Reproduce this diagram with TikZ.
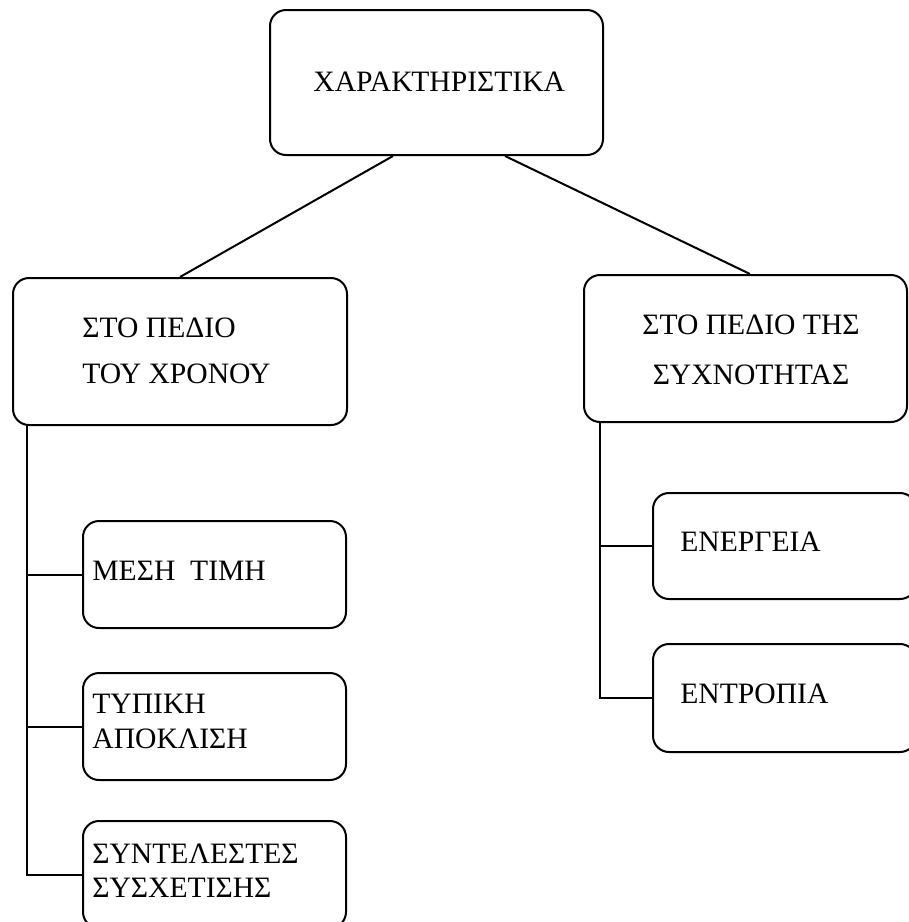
\documentclass[tikz,border=0pt]{standalone}
\usepackage{fontspec}
\setmainfont{Liberation Serif}

\tikzset{
  rbox/.style={draw, line width=1pt, rounded corners=8pt, inner sep=0pt},
  btext/.style={inner sep=0pt, anchor=north west, align=left, font=\fontsize{14.8}{23}\selectfont},
  link/.style={line width=1pt}
}

\begin{document}
\begin{tikzpicture}[x=0.5pt,y=0.5pt,yscale=-1,xscale=1]
	\useasboundingbox (0,0) rectangle (909,922);
	\clip (0,0) rectangle (909,922);

	%Shape: boxes
	\node [rbox, minimum width=166.5pt, minimum height=72.5pt] (top) at (436.5,82.5) {};
	\node [rbox, minimum width=167pt, minimum height=73.5pt] (tdom) at (180,351.5) {};
	\node [rbox, minimum width=161.5pt, minimum height=73.5pt] (fdom) at (745.5,348.5) {};
	\node [rbox, minimum width=131.5pt, minimum height=53.5pt] (mean) at (214.5,574.5) {};
	\node [rbox, minimum width=131.5pt, minimum height=53.5pt] (std) at (214.5,726.5) {};
	\node [rbox, minimum width=131.5pt, minimum height=53.5pt] (corr) at (214.5,874.5) {};
	\node [rbox, minimum width=131.5pt, minimum height=53pt] (energy) at (784.5,546) {};
	\node [rbox, minimum width=131.5pt, minimum height=54pt] (entropy) at (784.5,698) {};

	%Straight Lines: top to domains
	\draw [link] ([xshift=-21.75pt]top.south) -- (tdom.north);
	\draw [link] ([xshift=34.25pt]top.south) -- ([xshift=2.25pt]fdom.north);

	%Straight Lines: time domain branch
	\coordinate (tspine) at ([xshift=7.5pt]tdom.south west);
	\draw [link] (tspine) |- (corr.west);
	\draw [link] (tspine |- mean.west) -- (mean.west);
	\draw [link] (tspine |- std.west) -- (std.west);

	%Straight Lines: frequency domain branch
	\coordinate (fspine) at ([xshift=8.5pt]fdom.south west);
	\draw [link] (fspine) |- (entropy.west);
	\draw [link] (fspine |- energy.west) -- (energy.west);

	% Text Node
	\node [btext] (ttop) at (313,72) {ΧΑΡΑΚΤΗΡΙΣΤΙΚΑ};
	% Text Node
	\node [btext] (ttdom) at (82,317) {ΣΤΟ ΠΕΔΙΟ\\ΤΟΥ ΧΡΟΝΟΥ};
	% Text Node
	\node [btext, anchor=north, align=center, font=\fontsize{14.8}{25}\selectfont] (tfdom) at (751,314) {ΣΤΟ ΠΕΔΙΟ ΤΗΣ\\ΣΥΧΝΟΤΗΤΑΣ};
	% Text Node
	\node [btext] (tmean) at (92,561) {ΜΕΣΗ\ \ ΤΙΜΗ};
	% Text Node
	\node [btext, font=\fontsize{14.8}{17.5}\selectfont] (tstd) at (92,694) {ΤΥΠΙΚΗ\\ΑΠΟΚΛΙΣΗ};
	% Text Node
	\node [btext, font=\fontsize{14.8}{17}\selectfont] (tcorr) at (92,844) {ΣΥΝΤΕΛΕΣΤΕΣ\\ΣΥΣΧΕΤΙΣΗΣ};
	% Text Node
	\node [btext] (tenergy) at (680,532) {ΕΝΕΡΓΕΙΑ};
	% Text Node
	\node [btext] (tentropy) at (680,683) {ΕΝΤΡΟΠΙΑ};
\end{tikzpicture}
\end{document}
